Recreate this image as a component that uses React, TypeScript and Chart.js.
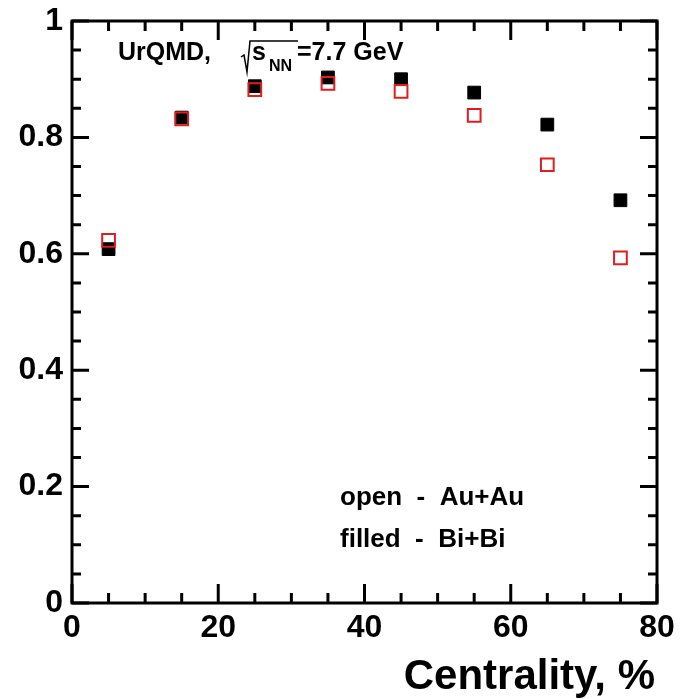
import React, { useEffect, useRef } from "react";
import { Chart, registerables } from "chart.js";

Chart.register(...registerables);

// ---- data ----
const centrality = [5, 15, 25, 35, 45, 55, 65, 75];
const auAuOpen = [0.623, 0.832, 0.882, 0.893, 0.879, 0.838, 0.753, 0.593];
const biBiFilled = [0.608, 0.834, 0.888, 0.903, 0.9, 0.877, 0.822, 0.692];
const xMin = 0;
const xMax = 80;
const xMajorStep = 20;
const xMinorStep = 5;
const yMin = 0;
const yMax = 1;
const yMajorStep = 0.2;
const yMinorStep = 0.05;
const xTitle = "Centrality, %";
const modelLabel = "UrQMD,";
const energyLabel = "=7.7 GeV";
const legendOpen = "open  -  Au+Au";
const legendFilled = "filled  -  Bi+Bi";

const FONT = '"Liberation Sans", Arial, Helvetica, sans-serif';
const RED = "#dc1e1e";

const framePlugin = {
  id: "rootFrame",
  beforeDatasetsDraw(chart: any) {
    const { ctx, chartArea } = chart;
    const { left, right, top, bottom } = chartArea;
    const xs = chart.scales.x;
    const ys = chart.scales.y;
    ctx.save();
    ctx.strokeStyle = "#000";
    ctx.lineWidth = 3;
    ctx.lineCap = "butt";
    const nx = Math.round((xMax - xMin) / xMinorStep);
    const perX = Math.round(xMajorStep / xMinorStep);
    for (let i = 0; i <= nx; i++) {
      const v = xMin + i * xMinorStep;
      const px = xs.getPixelForValue(v);
      const len = i % perX === 0 ? 19 : 10;
      ctx.beginPath();
      ctx.moveTo(px, bottom);
      ctx.lineTo(px, bottom - len);
      ctx.moveTo(px, top);
      ctx.lineTo(px, top + len);
      ctx.stroke();
    }
    const ny = Math.round((yMax - yMin) / yMinorStep);
    const perY = Math.round(yMajorStep / yMinorStep);
    for (let i = 0; i <= ny; i++) {
      const v = yMin + i * yMinorStep;
      const py = ys.getPixelForValue(v);
      const len = i % perY === 0 ? 17 : 9;
      ctx.beginPath();
      ctx.moveTo(left, py);
      ctx.lineTo(left + len, py);
      ctx.moveTo(right, py);
      ctx.lineTo(right - len, py);
      ctx.stroke();
    }
    ctx.strokeRect(left, top, right - left, bottom - top);
    ctx.restore();
  },
  afterDraw(chart: any) {
    const { ctx, chartArea } = chart;
    ctx.save();
    ctx.fillStyle = "#000";
    ctx.textAlign = "left";
    ctx.textBaseline = "alphabetic";
    ctx.font = `bold 25px ${FONT}`;
    ctx.fillText(modelLabel, 118, 60);
    ctx.strokeStyle = "#000";
    ctx.lineWidth = 1.5;
    ctx.beginPath();
    ctx.moveTo(241, 57);
    ctx.lineTo(244, 55);
    ctx.lineTo(247, 72);
    ctx.lineTo(250, 41);
    ctx.lineTo(298, 41);
    ctx.stroke();
    ctx.fillText("s", 252, 60);
    ctx.font = `bold 16px ${FONT}`;
    ctx.fillText("NN", 269, 71);
    ctx.font = `bold 25px ${FONT}`;
    ctx.fillText(energyLabel, 297, 60);
    ctx.font = `bold 26px ${FONT}`;
    ctx.fillText(legendOpen, 340, 505);
    ctx.fillText(legendFilled, 340, 547);
    ctx.font = `bold 42px ${FONT}`;
    ctx.textAlign = "right";
    ctx.fillText(xTitle, chartArea.right - 2, 689);
    ctx.restore();
  },
};

export default function App() {
  const ref = useRef<HTMLCanvasElement | null>(null);
  useEffect(() => {
    if (!ref.current) return;
    const chart = new Chart(ref.current, {
      type: "scatter",
      data: {
        datasets: [
          {
            label: "Au+Au",
            data: centrality.map((x, i) => ({ x, y: auAuOpen[i] })),
            pointStyle: "rect",
            pointRadius: 9,
            pointBorderWidth: 2,
            pointBorderColor: RED,
            pointBackgroundColor: "rgba(0,0,0,0)",
            showLine: false,
          },
          {
            label: "Bi+Bi",
            data: centrality.map((x, i) => ({ x, y: biBiFilled[i] })),
            pointStyle: "rect",
            pointRadius: 9,
            pointBorderWidth: 1,
            pointBorderColor: "#000",
            pointBackgroundColor: "#000",
            showLine: false,
          },
        ],
      },
      options: {
        responsive: false,
        animation: false,
        devicePixelRatio: 1,
        layout: { padding: { left: 0, top: 21, right: 25, bottom: 0 } },
        plugins: { legend: { display: false }, tooltip: { enabled: false } },
        scales: {
          x: {
            type: "linear",
            min: xMin,
            max: xMax,
            grid: { display: false, drawTicks: false },
            border: { display: false },
            ticks: {
              stepSize: xMajorStep,
              autoSkip: false,
              maxRotation: 0,
              padding: 6,
              color: "#000",
              font: { family: FONT, size: 32, weight: "bold" },
            },
            afterFit: (s: any) => {
              s.height = 96;
              s.paddingLeft = 0;
              s.paddingRight = 0;
            },
          },
          y: {
            type: "linear",
            min: yMin,
            max: yMax,
            grid: { display: false, drawTicks: false },
            border: { display: false },
            ticks: {
              stepSize: yMajorStep,
              padding: 9,
              color: "#000",
              font: { family: FONT, size: 32, weight: "bold" },
              callback: (v: any) => String(Math.round(Number(v) * 10) / 10),
            },
            afterFit: (s: any) => {
              s.width = 72;
              s.paddingTop = 0;
              s.paddingBottom = 0;
            },
          },
        },
      },
      plugins: [framePlugin],
    });
    return () => chart.destroy();
  }, []);
  return (
    <div style={{ position: "absolute", left: 0, top: 0, width: 682, height: 699, background: "#fff" }}>
      <canvas ref={ref} width={682} height={699} style={{ width: 682, height: 699, display: "block" }} />
    </div>
  );
}
